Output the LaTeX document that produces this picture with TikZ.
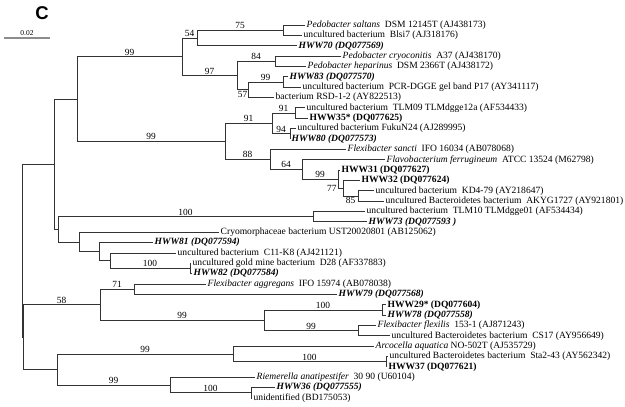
\documentclass[tikz,border=0pt]{standalone}
\usepackage{fontspec}
\setmainfont{Liberation Serif}
\setsansfont{Liberation Sans}
\tikzstyle{branch} = [draw, black!80, line width=0.8pt]
\tikzstyle{leaf} = [anchor=west, inner xsep=1.5pt, inner ysep=0pt, black]
\tikzstyle{weight} = [font=\fontsize{9.4}{10}\selectfont, inner sep=1pt, black]
\tikzstyle{wup} = [pos=0.75, above]
\tikzstyle{wdown} = [pos=0.75, below]
\tikzstyle{wleft} = [pos=0.5, left]
\newcommand{\hwwi}[1]{\textbf{\textit{#1}}}

\begin{document}
\begin{tikzpicture}[x=1pt, y=-1pt, font=\fontsize{9.55}{11}\selectfont]
\useasboundingbox (0,0) rectangle (625,407);

% panel letter and scale bar
\node[font=\sffamily\bfseries\fontsize{18.5}{18}\selectfont] (panel) at (42,13) {C};
\coordinate (sb1) at (4,38);
\coordinate (sb2) at (50,38);
\draw[black!45, line width=1.5pt] (sb1) -- node[above, black, font=\fontsize{7.5}{8}\selectfont, inner sep=2pt] (sblabel) {0.02} (sb2);

% inner nodes of the tree
\foreach \x/\y/\name in {22/250.64/root, 23/337.1/nX, 54/164.18/nA, 77/99.06/n99a,
    182/56.73/n99b, 197/37.95/n54, 283/30.18/n75, 237/75.5/n97, 275/61.26/n84,
    248/89.75/n57, 283/81.98/n99d, 225/141.39/n99c, 272/123.42/n91a, 295/113.06/n91b,
    290/133.78/n94, 270/159.36/n88, 302/169.39/n64, 338/179.1/n99e, 343/188.17/n77,
    358/195.94/n85, 58/229.29/nC, 313/216.66/n100a, 79/241.91/nD, 99/251.63/nE,
    110/260.69/nF, 190/268.46/n100b, 100/304.72/n58, 134/289.18/n71, 264/320.26/n99f,
    382/309.9/n100c, 358/330.62/n99g, 57/369.47/nG, 233/353.93/n99h, 386/361.7/n100d,
    170/385.01/n99i, 251/392.78/n100e}
  \coordinate (\name) at (\x,\y);

% leaves
\foreach \i/\x/\name/\label in {
    1/305/l1/{\textit{Pedobacter saltans}\ \ DSM 12145T (AJ438173)},
    2/302/l2/{uncultured bacterium\ \ Blsi7 (AJ318176)},
    3/297/l3/{\hwwi{HWW70 (DQ077569)}},
    4/341/l4/{\textit{Pedobacter cryoconitis}\ \ A37 (AJ438170)},
    5/306/l5/{\textit{Pedobacter heparinus}\ \ DSM 2366T (AJ438172)},
    6/288/l6/{\hwwi{HWW83 (DQ077570)}},
    7/301/l7/{uncultured bacterium\ \ PCR-DGGE gel band P17 (AY341117)},
    8/274/l8/{bacterium RSD-1-2 (AY822513)},
    9/305/l9/{uncultured bacterium\ \ TLM09 TLMdgge12a (AF534433)},
    10/308/l10/{\textbf{HWW35* (DQ077625)}},
    11/296/l11/{uncultured bacterium FukuN24 (AJ289995)},
    12/290/l12/{\hwwi{HWW80 (DQ077573)}},
    13/346/l13/{\textit{Flexibacter sancti}\ \ IFO 16034 (AB078068)},
    14/385/l14/{\textit{Flavobacterium ferrugineum}\ \ ATCC 13524 (M62798)},
    15/340/l15/{\textbf{HWW31 (DQ077627)}},
    16/360/l16/{\textbf{HWW32 (DQ077624)}},
    17/374/l17/{uncultured bacterium\ \ KD4-79 (AY218647)},
    18/384/l18/{uncultured Bacteroidetes bacterium\ \ AKYG1727 (AY921801)},
    19/365/l19/{uncultured bacterium\ \ TLM10 TLMdgge01 (AF534434)},
    20/367/l20/{\hwwi{HWW73 (DQ077593 )}},
    21/219/l21/{Cryomorphaceae bacterium UST20020801 (AB125062)},
    22/153/l22/{\hwwi{HWW81 (DQ077594)}},
    23/176/l23/{uncultured bacterium\ \ C11-K8 (AJ421121)},
    24/191/l24/{uncultured gold mine bacterium\ \ D28 (AF337883)},
    25/192/l25/{\hwwi{HWW82 (DQ077584)}},
    26/206/l26/{\textit{Flexibacter aggregans}\ \ IFO 15974 (AB078038)},
    27/337/l27/{\hwwi{HWW79 (DQ077568)}},
    28/386/l28/{\textbf{HWW29* (DQ077604)}},
    29/386/l29/{\hwwi{HWW78 (DQ077558)}},
    30/376/l30/{\textit{Flexibacter flexilis}\ \ 153-1 (AJ871243)},
    31/390/l31/{uncultured Bacteroidetes bacterium\ \ CS17 (AY956649)},
    32/374/l32/{\textit{Arcocella aquatica} NO-502T (AJ535729)},
    33/388/l33/{uncultured Bacteroidetes bacterium\ \ Sta2-43 (AY562342)},
    34/387/l34/{\textbf{HWW37 (DQ077621)}},
    35/255/l35/{\textit{Riemerella anatipestifer}\ \ 30 90 (U60104)},
    36/275/l36/{\hwwi{HWW36 (DQ077555)}},
    37/252/l37/{unidentified (BD175053)}}
  \node[leaf] (\name) at (\x, {25+10.36*(\i-1)}) {\label};

% branches with bootstrap values
\foreach \source/\dest/\weight/\side in {
    root/nA//wup, root/nX//wup, nA/n99a//wup, nA/nC//wup,
    n99a/n99b/99/wup, n99a/n99c/99/wup,
    n99b/n54/54/wup, n99b/n97/97/wup, n54/n75/75/wup, n54/l3//wup, n75/l1//wup, n75/l2//wup,
    n97/n84/84/wup, n97/n57/57/wdown, n84/l4//wup, n84/l5//wup,
    n57/n99d/99/wup, n57/l8//wup, n99d/l6//wup, n99d/l7//wup,
    n99c/n91a/91/wup, n99c/n88/88/wup, n91a/n91b/91/wup, n91a/n94/94/wup,
    n91b/l9//wup, n91b/l10//wup, n94/l11//wup, n94/l12//wup,
    n88/l13//wup, n88/n64/64/wup, n64/l14//wup, n64/n99e/99/wup,
    n99e/l15//wup, n99e/n77/77/wleft, n77/l16//wup, n77/n85/85/wdown,
    n85/l17//wup, n85/l18//wup,
    nC/n100a/100/wup, nC/nD//wup, n100a/l19//wup, n100a/l20//wup,
    nD/l21//wup, nD/nE//wup, nE/l22//wup, nE/nF//wup,
    nF/l23//wup, nF/n100b/100/wup, n100b/l24//wup, n100b/l25//wup,
    nX/n58/58/wup, nX/nG//wup, n58/n71/71/wup, n58/n99f/99/wup,
    n71/l26//wup, n71/l27//wup, n99f/n100c/100/wup, n99f/n99g/99/wup,
    n100c/l28//wup, n100c/l29//wup, n99g/l30//wup, n99g/l31//wup,
    nG/n99h/99/wup, nG/n99i/99/wup, n99h/l32//wup, n99h/n100d/100/wup,
    n100d/l33//wup, n100d/l34//wup, n99i/l35//wup, n99i/n100e/100/wup,
    n100e/l36//wup, n100e/l37//wup}
  \path[branch] (\source) |- node[weight,\side] {\weight} (\dest);

\end{tikzpicture}
\end{document}
